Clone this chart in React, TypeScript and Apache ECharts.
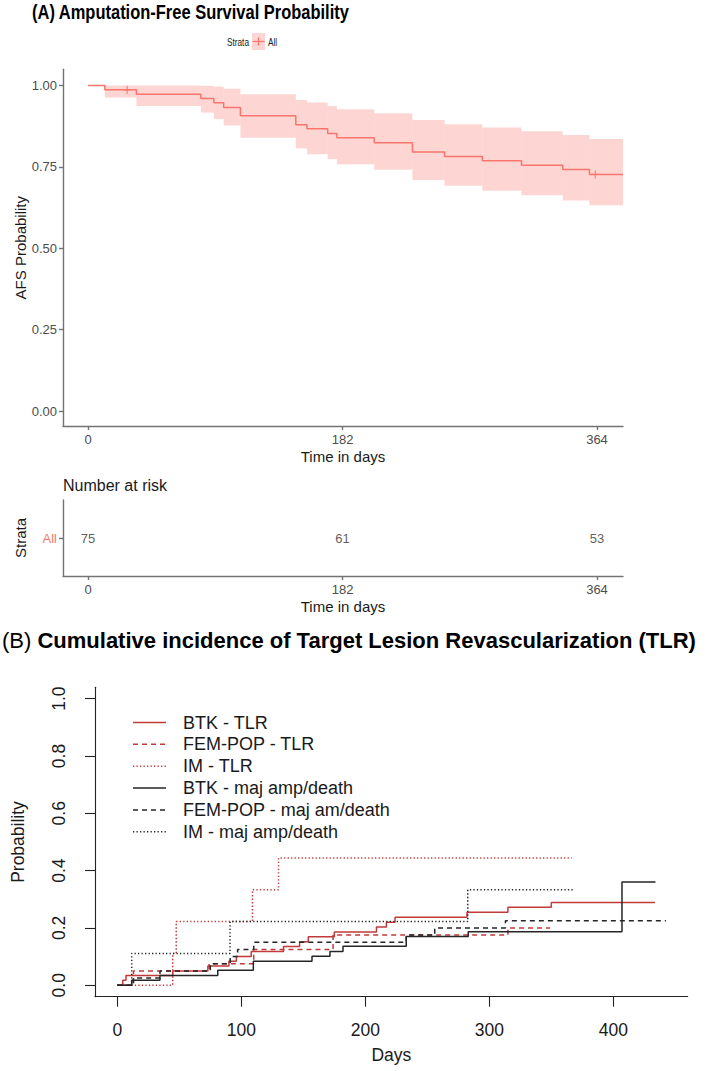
import React, { useEffect, useRef } from "react";
import * as echarts from "echarts";

const FONT = "'Liberation Sans', Arial, sans-serif";

// ---------- Panel A : Amputation-free survival ----------
const AFS_TIMES = [0, 12, 34.6, 80.7, 90, 97, 109, 148.6, 156.6, 171.4, 178, 204.7, 232, 255, 282, 310, 339.5, 358.6];
const AFS_SURV = [1, 0.987, 0.973, 0.96, 0.947, 0.933, 0.907, 0.88, 0.867, 0.853, 0.84, 0.824, 0.796, 0.782, 0.769, 0.755, 0.742, 0.727];
const AFS_LOWER = [1, 0.963, 0.937, 0.917, 0.897, 0.877, 0.84, 0.807, 0.789, 0.774, 0.758, 0.741, 0.71, 0.692, 0.677, 0.663, 0.647, 0.632];
const AFS_UPPER = [1, 1, 1, 0.999, 0.997, 0.99, 0.973, 0.956, 0.948, 0.937, 0.927, 0.915, 0.894, 0.881, 0.871, 0.86, 0.848, 0.836];
const AFS_END = 382.6;
const CENSOR_TIMES = [28, 362.8];
const CENSOR_SURV = [0.987, 0.727];
const AFS_X_TICKS = [0, 182, 364];
const AFS_Y_TICKS = [0, 0.25, 0.5, 0.75, 1];
const RISK_STRATA = ["All"];
const RISK_TIMES = [0, 182, 364];
const RISK_COUNTS = [75, 61, 53];

// ---------- Panel B : Cumulative incidence ----------
const B_X_TICKS = [0, 100, 200, 300, 400];
const B_Y_TICKS = [0, 0.2, 0.4, 0.6, 0.8, 1];
const BTK_TLR_T = [0, 4.4, 7, 44.7, 73, 90, 96, 108, 134, 147, 154, 175, 209, 217, 224, 282, 315, 350, 433.6];
const BTK_TLR_V = [0, 0.017, 0.034, 0.05, 0.067, 0.084, 0.1, 0.118, 0.135, 0.152, 0.169, 0.186, 0.203, 0.22, 0.237, 0.255, 0.272, 0.289, 0.289];
const FEM_TLR_T = [0, 13, 74, 110, 174, 315, 349];
const FEM_TLR_V = [0, 0.05, 0.075, 0.125, 0.175, 0.2, 0.2];
const IM_TLR_T = [0, 44.7, 47.5, 109, 130, 366.4];
const IM_TLR_V = [0, 0.111, 0.222, 0.333, 0.444, 0.444];
const BTK_DEATH_T = [0, 11.6, 34.4, 81, 109.7, 157, 171.5, 182, 233, 283, 407, 434];
const BTK_DEATH_V = [0, 0.017, 0.034, 0.052, 0.084, 0.101, 0.118, 0.136, 0.17, 0.187, 0.36, 0.36];
const FEM_DEATH_T = [0, 13, 34.4, 75, 91, 97, 110, 233, 256, 313, 442.5];
const FEM_DEATH_V = [0, 0.025, 0.05, 0.075, 0.1, 0.125, 0.15, 0.175, 0.2, 0.225, 0.225];
const IM_DEATH_T = [0, 11.6, 90.9, 282.6, 367.8];
const IM_DEATH_V = [0, 0.111, 0.222, 0.333, 0.333];
const B_NAMES = [
  "BTK - TLR",
  "FEM-POP - TLR",
  "IM - TLR",
  "BTK - maj amp/death",
  "FEM-POP - maj am/death",
  "IM - maj amp/death",
];

const KM_RED = "#F8766D";
const BAND = "rgba(248,118,109,0.3)";
const RED_B = "#C23B3B";
const BLACK_B = "#262626";
const DASH = [5, 4];
const DOT = [1.3, 2.2];

const B_STYLES = [
  { color: RED_B, type: "solid" as any },
  { color: RED_B, type: DASH },
  { color: RED_B, type: DOT },
  { color: BLACK_B, type: "solid" as any },
  { color: BLACK_B, type: DASH },
  { color: BLACK_B, type: DOT },
];
const B_DATA = [
  [BTK_TLR_T, BTK_TLR_V],
  [FEM_TLR_T, FEM_TLR_V],
  [IM_TLR_T, IM_TLR_V],
  [BTK_DEATH_T, BTK_DEATH_V],
  [FEM_DEATH_T, FEM_DEATH_V],
  [IM_DEATH_T, IM_DEATH_V],
];

function zip(t: number[], v: number[]) {
  return t.map((x, i) => [x, v[i]]);
}

function buildOption(): any {
  const kmLine = zip(AFS_TIMES, AFS_SURV);
  kmLine.push([AFS_END, AFS_SURV[AFS_SURV.length - 1]]);
  const band = AFS_TIMES.map((t, i) => [
    t,
    i + 1 < AFS_TIMES.length ? AFS_TIMES[i + 1] : AFS_END,
    AFS_LOWER[i],
    AFS_UPPER[i],
  ]).filter((d) => d[3] - d[2] > 0);

  const grayAxis = { color: "#737373", width: 1.4 };
  const axA = (ticks: number[], fmt?: (v: number) => string, margin = 7) => ({
    axisLine: { show: true, onZero: false, lineStyle: grayAxis },
    axisTick: { show: true, length: 4, customValues: ticks, lineStyle: grayAxis },
    axisLabel: {
      customValues: ticks,
      color: "#4d4d4d",
      fontSize: 13,
      fontFamily: FONT,
      margin,
      formatter: fmt,
    },
    splitLine: { show: false },
  });

  const blackAxis = { color: "#222", width: 1.1 };

  const txt = (x: number, y: number, text: string, size: number, extra: any = {}) => ({
    type: "text",
    x,
    y,
    rotation: extra.rotation || 0,
    scaleX: extra.scaleX || 1,
    style: {
      text,
      fill: extra.fill || "#1a1a1a",
      fontSize: size,
      fontFamily: FONT,
      fontWeight: extra.weight || "normal",
      align: extra.align || "center",
      verticalAlign: "middle",
      textAlign: extra.align || "center",
      textVerticalAlign: "middle",
    },
  });

  const legendRows = B_NAMES.map((n, i) => 722.5 + i * 21.85);
  const legendGraphics: any[] = [];
  B_NAMES.forEach((n, i) => {
    const y = legendRows[i];
    const st = B_STYLES[i];
    legendGraphics.push({
      type: "line",
      shape: { x1: 133, y1: y, x2: 166, y2: y },
      style: {
        stroke: st.color,
        lineWidth: 1.5,
        lineDash: st.type === "solid" ? null : st.type,
      },
    });
    legendGraphics.push(txt(183, y, n, 18, { align: "left" }));
  });

  return {
    animation: false,
    backgroundColor: "#ffffff",
    grid: [
      { left: 63, top: 69.3, width: 560, height: 356.7, outerBoundsMode: "none" },
      { left: 63, top: 500, width: 560, height: 76, outerBoundsMode: "none" },
      { left: 95, top: 687.2, width: 592.7, height: 309.5, outerBoundsMode: "none" },
    ],
    xAxis: [
      { type: "value", gridIndex: 0, min: -17.9, max: AFS_END, ...axA(AFS_X_TICKS) },
      { type: "value", gridIndex: 1, min: -17.9, max: AFS_END, ...axA(AFS_X_TICKS) },
      {
        type: "value",
        gridIndex: 2,
        min: -18,
        max: 460,
        axisLine: { show: true, onZero: false, lineStyle: blackAxis },
        axisTick: { show: true, length: 10, customValues: B_X_TICKS, lineStyle: blackAxis },
        axisLabel: { customValues: B_X_TICKS, color: "#1a1a1a", fontSize: 17.5, fontFamily: FONT, margin: 24 },
        splitLine: { show: false },
      },
    ],
    yAxis: [
      {
        type: "value",
        gridIndex: 0,
        min: -0.046,
        max: 1.05,
        ...axA(AFS_Y_TICKS, (v: number) => v.toFixed(2), 6),
      },
      {
        type: "category",
        gridIndex: 1,
        data: RISK_STRATA,
        axisLine: { show: true, onZero: false, lineStyle: grayAxis },
        axisTick: { show: true, length: 4, alignWithLabel: true, lineStyle: grayAxis },
        axisLabel: { color: KM_RED, fontSize: 13, fontFamily: FONT, margin: 6 },
        splitLine: { show: false },
      },
      {
        type: "value",
        gridIndex: 2,
        min: -0.04,
        max: 1.04,
        axisLine: { show: true, onZero: false, lineStyle: blackAxis },
        axisTick: { show: true, length: 10, customValues: B_Y_TICKS, lineStyle: blackAxis },
        axisLabel: {
          customValues: B_Y_TICKS,
          color: "#1a1a1a",
          fontSize: 17.5,
          fontFamily: FONT,
          margin: 27,
          rotate: 90,
          formatter: (v: number) => v.toFixed(1),
        },
        splitLine: { show: false },
      },
    ],
    series: [
      {
        type: "custom",
        xAxisIndex: 0,
        yAxisIndex: 0,
        data: band,
        encode: { x: [0, 1], y: [2, 3] },
        renderItem: (params: any, api: any) => {
          const a = api.coord([api.value(0), api.value(3)]);
          const b = api.coord([api.value(1), api.value(2)]);
          return {
            type: "rect",
            shape: { x: a[0], y: a[1], width: b[0] - a[0], height: b[1] - a[1] },
            style: { fill: BAND },
          };
        },
        silent: true,
        z: 1,
      },
      {
        type: "line",
        xAxisIndex: 0,
        yAxisIndex: 0,
        data: kmLine,
        step: "end",
        symbol: "none",
        lineStyle: { color: KM_RED, width: 1.5 },
        z: 3,
      },
      {
        type: "scatter",
        xAxisIndex: 0,
        yAxisIndex: 0,
        data: zip(CENSOR_TIMES, CENSOR_SURV),
        symbol: "path://M0,5L10,5M5,0L5,10",
        symbolSize: 8,
        itemStyle: { color: "transparent", borderColor: KM_RED, borderWidth: 1.3 },
        z: 4,
      },
      {
        type: "scatter",
        xAxisIndex: 1,
        yAxisIndex: 1,
        data: RISK_TIMES.map((t, i) => [t, 0, RISK_COUNTS[i]]),
        symbolSize: 0,
        label: {
          show: true,
          position: "inside",
          formatter: (p: any) => String(p.value[2]),
          color: "#333",
          fontSize: 13,
          fontFamily: FONT,
        },
      },
      ...B_DATA.map((d, i) => ({
        type: "line",
        name: B_NAMES[i],
        xAxisIndex: 2,
        yAxisIndex: 2,
        data: zip(d[0], d[1]),
        step: "end",
        symbol: "none",
        lineStyle: { color: B_STYLES[i].color, width: 1.5, type: B_STYLES[i].type },
        z: 3,
      })),
    ],
    graphic: [
      txt(32, 12, "(A) Amputation-Free Survival Probability", 21, {
        align: "left",
        weight: "bold",
        fill: "#000",
        scaleX: 0.785,
      }),
      txt(227, 41.7, "Strata", 11, { align: "left", scaleX: 0.75 }),
      {
        type: "rect",
        shape: { x: 252, y: 33, width: 13, height: 17 },
        style: { fill: BAND },
      },
      {
        type: "line",
        shape: { x1: 252.5, y1: 41.5, x2: 264.5, y2: 41.5 },
        style: { stroke: KM_RED, lineWidth: 1.3 },
      },
      {
        type: "line",
        shape: { x1: 258.5, y1: 37.5, x2: 258.5, y2: 45.5 },
        style: { stroke: KM_RED, lineWidth: 1.3 },
      },
      txt(268, 41.7, "All", 11, { align: "left", scaleX: 0.75 }),
      txt(20, 247.7, "AFS Probability", 15, { rotation: Math.PI / 2 }),
      txt(343, 456, "Time in days", 15),
      txt(63, 485, "Number at risk", 16, { align: "left" }),
      txt(20, 538, "Strata", 15, { rotation: Math.PI / 2 }),
      txt(343, 606.7, "Time in days", 15),
      {
        type: "text",
        x: 2,
        y: 640.7,
        style: {
          text: "{r|(B) }{b|Cumulative incidence of Target Lesion Revascularization (TLR)}",
          fill: "#000",
          align: "left",
          verticalAlign: "middle",
          textAlign: "left",
          textVerticalAlign: "middle",
          rich: {
            r: { fontSize: 22, fontFamily: FONT, fontWeight: "normal", fill: "#000", color: "#000" },
            b: { fontSize: 22, fontFamily: FONT, fontWeight: "bold", fill: "#000", color: "#000" },
          },
        },
      },
      txt(18, 842, "Probability", 17.5, { rotation: Math.PI / 2 }),
      txt(391.4, 1055, "Days", 17.5),
      ...legendGraphics,
    ],
  };
}

export default function App() {
  const ref = useRef<HTMLDivElement>(null);
  useEffect(() => {
    if (!ref.current) return;
    const chart = echarts.init(ref.current, undefined, { renderer: "svg" });
    chart.setOption(buildOption());
    return () => chart.dispose();
  }, []);
  return (
    <div
      ref={ref}
      style={{ position: "absolute", left: 0, top: 0, width: 708, height: 1071, background: "#fff" }}
    />
  );
}
